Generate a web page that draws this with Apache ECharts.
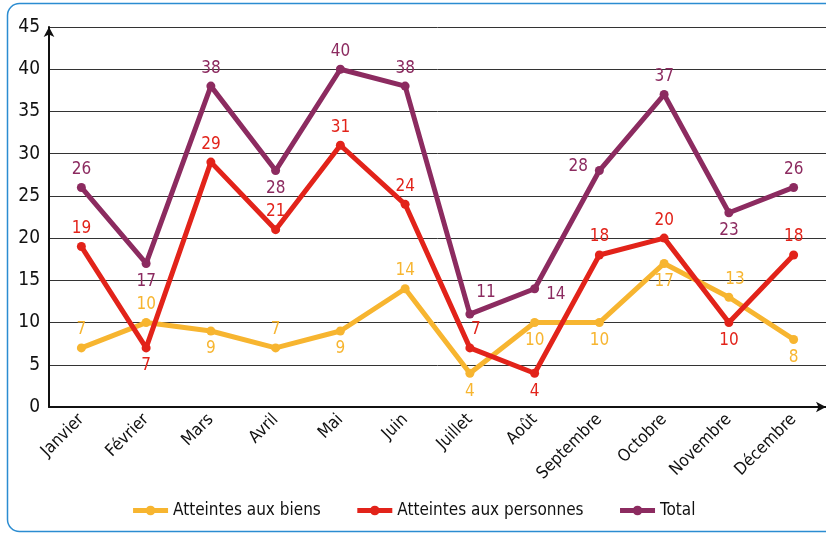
<!DOCTYPE html>
<html><head><meta charset="utf-8">
<script src="https://cdn.jsdelivr.net/npm/echarts@6/dist/echarts.min.js"></script>
<style>html,body{margin:0;padding:0;background:#fff}#c{width:826px;height:534px}</style>
</head><body><div id="c"></div>
<script>
const categories = ['Janvier','Février','Mars','Avril','Mai','Juin','Juillet','Août','Septembre','Octobre','Novembre','Décembre'];
const biens = [7,10,9,7,9,14,4,10,10,17,13,8];
const personnes = [19,7,29,21,31,24,7,4,18,20,10,18];
const total = [26,17,38,28,40,38,11,14,28,37,23,26];
const yTicks = [0,5,10,15,20,25,30,35,40,45];

// label placement (style only)
const biensPos = ['top','top','bottom','top','bottom','top','bottom','bottom','bottom','bottom','topShift','bottom'];
const personnesPos = ['top','bottom','top','top','top','top','topShift','bottom','top','top','bottom','top'];
const totalPos = ['top','bottom','top','bottom','top','top','topRight','right','left','top','bottom','top'];

const FONT = "'DejaVu Sans Condensed','Liberation Sans Narrow','Liberation Sans',Arial,sans-serif";
const colors = {biens:'#F7B530', personnes:'#E2231A', total:'#8C2B60'};

function mk(name, vals, pos, color){
  return {
    name, type:'line', data: vals.map((v,i)=>{
      const p = pos[i];
      const lab = {position: p};
      if (p==='topRight'){ lab.position='top'; lab.offset=[16,-4]; }
      if (p==='topShift'){ lab.position='top'; lab.offset=[6,0]; }
      if (p==='right'){ lab.offset=[2,6]; }
      if (p==='left'){ lab.offset=[-2,-4]; }
      return {value:v, label:lab};
    }),
    symbol:'circle', symbolSize:9,
    lineStyle:{width:5, color},
    itemStyle:{color},
    label:{show:true, color, fontFamily:FONT, fontSize:17, distance:5},
    z: 3
  };
}

const chart = echarts.init(document.getElementById('c'));
chart.setOption({
  animation:false,
  color:[colors.biens, colors.personnes, colors.total],
  textStyle:{fontFamily:FONT},
  graphic:[{type:'rect', shape:{x:7.5,y:3.5,width:900,height:528,r:12}, style:{fill:'none', stroke:'#2B8CD1', lineWidth:1.5}, z:-1}],
  grid:{left:49, right:0, top:27, bottom:127},
  legend:{
    bottom:10, left:'center', itemWidth:35, itemHeight:12, itemGap:34,
    lineStyle:{width:5},
    textStyle:{fontFamily:FONT, fontSize:17, color:'#111'},
    data:['Atteintes aux biens','Atteintes aux personnes','Total']
  },
  xAxis:{
    type:'category', data:categories, boundaryGap:true,
    axisLine:{lineStyle:{color:'#111', width:2}, symbol:['none','arrow'], symbolSize:[8,10]},
    axisTick:{show:false},
    axisLabel:{rotate:45, color:'#111', fontSize:17, fontFamily:FONT, margin:10, interval:0}
  },
  yAxis:{
    type:'value', min:0, max:45, interval:5,
    axisLine:{show:true, lineStyle:{color:'#111', width:2}, symbol:['none','arrow'], symbolSize:[8,10]},
    axisTick:{show:false},
    axisLabel:{color:'#111', fontSize:19, fontFamily:FONT, margin:9, formatter:v=>yTicks.includes(v)?String(v):''},
    splitLine:{lineStyle:{color:'#333', width:1}}
  },
  series:[
    mk('Atteintes aux biens', biens, biensPos, colors.biens),
    mk('Atteintes aux personnes', personnes, personnesPos, colors.personnes),
    mk('Total', total, totalPos, colors.total)
  ]
});
</script></body></html>
